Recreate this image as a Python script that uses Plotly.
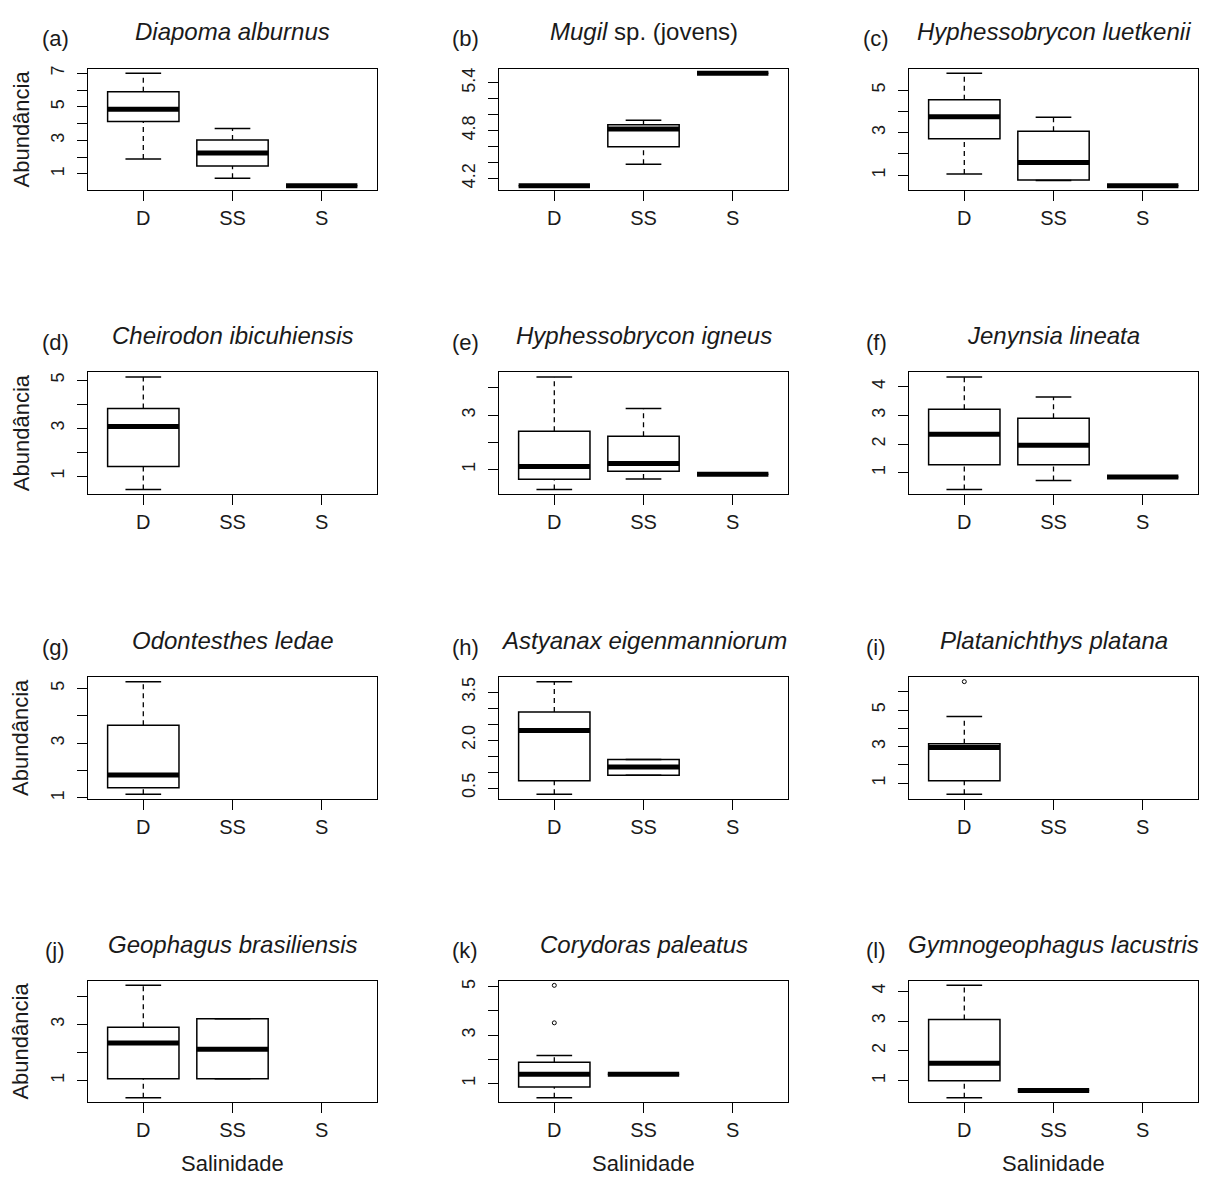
import plotly.graph_objects as go

# the page is rendered with the browser's default 8px body margin,
# so the figure is made 8px smaller and positions are shifted by 8px
OFF = 8
W, H = 1211 - OFF, 1182 - OFF

categories = ["D", "SS", "S"]
cat_pos = [1, 2, 3]

titles = [
    "<i>Diapoma alburnus</i>", "<i>Mugil</i> sp. (jovens)", "<i>Hyphessobrycon luetkenii</i>",
    "<i>Cheirodon ibicuhiensis</i>", "<i>Hyphessobrycon igneus</i>", "<i>Jenynsia lineata</i>",
    "<i>Odontesthes ledae</i>", "<i>Astyanax eigenmanniorum</i>", "<i>Platanichthys platana</i>",
    "<i>Geophagus brasiliensis</i>", "<i>Corydoras paleatus</i>", "<i>Gymnogeophagus lacustris</i>",
]
letters = ["(a)", "(b)", "(c)", "(d)", "(e)", "(f)", "(g)", "(h)", "(i)", "(j)", "(k)", "(l)"]

# five-number summaries per salinity class: (lower whisker, Q1, median, Q3, upper whisker)
stats_a = [(1.89, 4.13, 4.86, 5.90, 7.00), (0.74, 1.47, 2.25, 3.02, 3.71), (0.30, 0.30, 0.30, 0.30, 0.30)]
stats_b = [(4.11, 4.11, 4.11, 4.11, 4.11), (4.38, 4.60, 4.82, 4.875, 4.93), (5.52, 5.52, 5.52, 5.52, 5.52)]
stats_c = [(1.05, 2.71, 3.75, 4.55, 5.80), (0.75, 0.77, 1.60, 3.07, 3.73), (0.50, 0.50, 0.50, 0.50, 0.50)]
stats_d = [(0.45, 1.40, 3.07, 3.82, 5.13), None, None]
stats_e = [(0.27, 0.64, 1.11, 2.41, 4.40), (0.65, 0.94, 1.22, 2.22, 3.24), (0.83, 0.83, 0.83, 0.83, 0.83)]
stats_f = [(0.42, 1.28, 2.34, 3.21, 4.34), (0.73, 1.28, 1.96, 2.90, 3.64), (0.85, 0.85, 0.85, 0.85, 0.85)]
stats_g = [(1.14, 1.37, 1.84, 3.66, 5.25), None, None]
stats_h = [(0.31, 0.73, 2.30, 2.88, 3.83), (0.90, 0.90, 1.16, 1.39, 1.39), None]
stats_i = [(0.40, 1.13, 2.95, 3.16, 4.65), None, None]
stats_j = [(0.38, 1.06, 2.34, 2.90, 4.40), (1.06, 1.06, 2.12, 3.21, 3.21), None]
stats_k = [(0.41, 0.86, 1.39, 1.88, 2.16), (1.39, 1.39, 1.39, 1.39, 1.39), None]
stats_l = [(0.42, 0.99, 1.58, 3.05, 4.20), (0.67, 0.67, 0.67, 0.67, 0.67), None]

outliers_i = [[6.55], [], []]
outliers_k = [[3.51, 5.06], [], []]

yticks_a = [1, 2, 3, 4, 5, 6, 7]
ylabels_a = ["1", "", "3", "", "5", "", "7"]
yticks_b = [4.2, 4.4, 4.6, 4.8, 5.0, 5.2, 5.4]
ylabels_b = ["4.2", "", "", "4.8", "", "", "5.4"]
yticks_c = [1, 2, 3, 4, 5]
ylabels_c = ["1", "", "3", "", "5"]
yticks_d = [1, 2, 3, 4, 5]
ylabels_d = ["1", "", "3", "", "5"]
yticks_e = [1, 2, 3, 4]
ylabels_e = ["1", "", "3", ""]
yticks_f = [1, 2, 3, 4]
ylabels_f = ["1", "2", "3", "4"]
yticks_g = [1, 2, 3, 4, 5]
ylabels_g = ["1", "", "3", "", "5"]
yticks_h = [0.5, 1.0, 1.5, 2.0, 2.5, 3.0, 3.5]
ylabels_h = ["0.5", "", "", "2.0", "", "", "3.5"]
yticks_i = [1, 2, 3, 4, 5, 6]
ylabels_i = ["1", "", "3", "", "5", ""]
yticks_j = [1, 2, 3, 4]
ylabels_j = ["1", "", "3", ""]
yticks_k = [1, 2, 3, 4, 5]
ylabels_k = ["1", "", "3", "", "5"]
yticks_l = [1, 2, 3, 4]
ylabels_l = ["1", "2", "3", "4"]

y_title = "Abundância"
x_title = "Salinidade"

panels = [
    (stats_a, None, yticks_a, ylabels_a),
    (stats_b, None, yticks_b, ylabels_b),
    (stats_c, None, yticks_c, ylabels_c),
    (stats_d, None, yticks_d, ylabels_d),
    (stats_e, None, yticks_e, ylabels_e),
    (stats_f, None, yticks_f, ylabels_f),
    (stats_g, None, yticks_g, ylabels_g),
    (stats_h, None, yticks_h, ylabels_h),
    (stats_i, outliers_i, yticks_i, ylabels_i),
    (stats_j, None, yticks_j, ylabels_j),
    (stats_k, outliers_k, yticks_k, ylabels_k),
    (stats_l, None, yticks_l, ylabels_l),
]

# layout geometry (pixels in the reference image)
col_left = [88, 499, 909]
plot_w = 289
row_top = [66, 371, 677, 982]
plot_h = 122
letter_cx = [55, 465, 876]

FONT = "Liberation Sans, Arial, sans-serif"
TXT = "#1a1a1a"
BOXWEX = 0.8
STAPLE = 0.4


def px(xp):
    return (xp - OFF) / W


def py(yp):
    return 1 - (yp - OFF) / H


fig = go.Figure()
layout = dict(
    width=W, height=H,
    margin=dict(l=0, r=0, t=0, b=0),
    paper_bgcolor="white", plot_bgcolor="white",
    showlegend=False,
    font=dict(family=FONT, color=TXT),
)
annotations = []

for i, (stats, outl, yt, yl) in enumerate(panels):
    r, c = divmod(i, 3)
    n = "" if i == 0 else str(i + 1)
    xa, ya = "x" + n, "y" + n

    vals = []
    for j, s in enumerate(stats):
        if s is None:
            continue
        lo, q1, med, q3, hi = s
        x = cat_pos[j]
        vals += [lo, hi]
        fig.add_trace(go.Box(
            x=[x], q1=[q1], median=[med], q3=[q3], lowerfence=[q1], upperfence=[q3],
            width=BOXWEX, whiskerwidth=0.5, boxpoints=False,
            line=dict(color="black", width=1.5), fillcolor="white",
            xaxis=xa, yaxis=ya, hoverinfo="skip", showlegend=False,
        ))
        # dashed whiskers
        wx, wy = [], []
        if hi > q3:
            wx += [x, x, None]; wy += [q3, hi, None]
        if lo < q1:
            wx += [x, x, None]; wy += [lo, q1, None]
        if wx:
            fig.add_trace(go.Scatter(
                x=wx, y=wy, mode="lines", line=dict(color="black", width=1.3, dash="5px,4px"),
                xaxis=xa, yaxis=ya, hoverinfo="skip", showlegend=False,
            ))
        # staples
        fig.add_trace(go.Scatter(
            x=[x - STAPLE / 2, x + STAPLE / 2, None, x - STAPLE / 2, x + STAPLE / 2],
            y=[hi, hi, None, lo, lo], mode="lines", line=dict(color="black", width=1.5),
            xaxis=xa, yaxis=ya, hoverinfo="skip", showlegend=False,
        ))
        # thick median
        fig.add_trace(go.Scatter(
            x=[x - BOXWEX / 2, x + BOXWEX / 2], y=[med, med], mode="lines",
            line=dict(color="black", width=5),
            xaxis=xa, yaxis=ya, hoverinfo="skip", showlegend=False,
        ))
    if outl:
        for j, pts in enumerate(outl):
            if not pts:
                continue
            vals += pts
            fig.add_trace(go.Scatter(
                x=[cat_pos[j]] * len(pts), y=pts, mode="markers",
                marker=dict(symbol="circle-open", size=4, color="black", line=dict(width=1)),
                xaxis=xa, yaxis=ya, hoverinfo="skip", showlegend=False,
            ))

    lo_v, hi_v = min(vals), max(vals)
    pad = 0.04 * (hi_v - lo_v)
    x0 = col_left[c]
    y0 = row_top[r]
    xdom = [px(x0), px(x0 + plot_w)]
    ydom = [py(y0 + plot_h), py(y0)]

    layout["xaxis" + n] = dict(
        domain=xdom, anchor=ya, range=[0.38, 3.62],
        tickmode="array", tickvals=cat_pos, ticktext=categories,
        showline=True, mirror=True, linecolor="black", linewidth=1.3,
        ticks="outside", ticklen=10, tickwidth=1.3, tickcolor="black",
        showgrid=False, zeroline=False, tickfont=dict(size=20, family=FONT, color=TXT),
        fixedrange=True,
    )
    layout["yaxis" + n] = dict(
        domain=ydom, anchor=xa, range=[lo_v - pad, hi_v + pad],
        tickmode="array", tickvals=yt, ticktext=yl, tickangle=-90,
        showline=True, mirror=True, linecolor="black", linewidth=1.3,
        ticks="outside", ticklen=10, tickwidth=1.3, tickcolor="black",
        showgrid=False, zeroline=False, tickfont=dict(size=18, family=FONT, color=TXT),
        ticklabelstandoff=6, fixedrange=True,
    )

    cx = x0 + plot_w / 2
    annotations.append(dict(
        text=titles[i], x=px(cx), y=py(y0 - 37), xref="paper", yref="paper",
        xanchor="center", yanchor="middle", showarrow=False,
        font=dict(size=24, family=FONT, color=TXT),
    ))
    annotations.append(dict(
        text=letters[i], x=px(letter_cx[c]), y=py(y0 - 30), xref="paper", yref="paper",
        xanchor="center", yanchor="middle", showarrow=False,
        font=dict(size=22, family=FONT, color=TXT),
    ))
    if c == 0:
        annotations.append(dict(
            text=y_title, x=px(21), y=py(y0 + plot_h / 2), xref="paper", yref="paper",
            xanchor="center", yanchor="middle", showarrow=False, textangle=-90,
            font=dict(size=22, family=FONT, color=TXT),
        ))
    if r == 3:
        annotations.append(dict(
            text=x_title, x=px(cx), y=py(y0 + plot_h + 61), xref="paper", yref="paper",
            xanchor="center", yanchor="middle", showarrow=False,
            font=dict(size=22, family=FONT, color=TXT),
        ))

layout["annotations"] = annotations
fig.update_layout(**layout)
fig.write_html("out.html")
